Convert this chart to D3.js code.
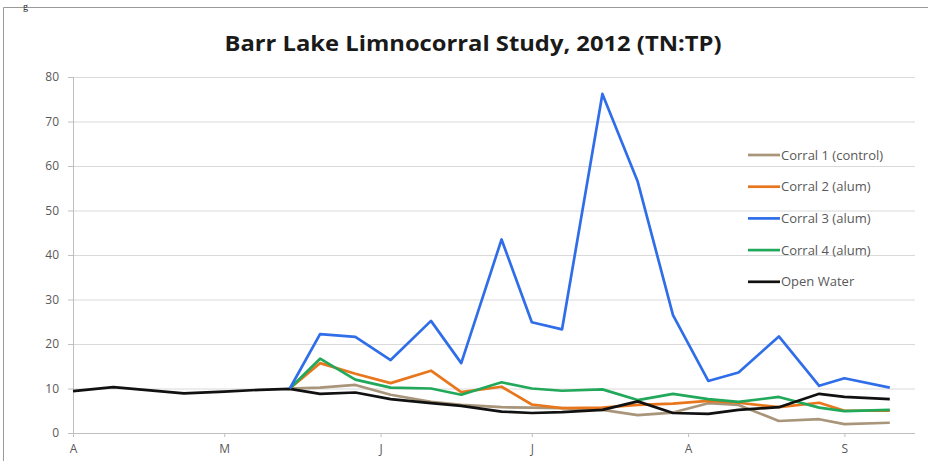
<!DOCTYPE html>
<html lang="en">
<head>
    <meta charset="UTF-8">
    <title>Barr Lake Limnocorral Study</title>
    <script src="https://cdn.jsdelivr.net/npm/d3@7"></script>
    <style>
        body { margin: 0; background: #fff; }
        svg { display: block; }
        .grid line { stroke: #d9d9d9; stroke-width: 1; }
        .axis text { font-family: "Open Sans", sans-serif; font-size: 12px; fill: #595959; }
        .axis path, .axis line { stroke: #bfbfbf; }
    </style>
</head>
<body>
    <div id="chart"></div>
    <script>
        var W = 928;
        var H = 461;
        var margin = { top: 77, right: 13, bottom: 28, left: 73 };
        var w = W - margin.left - margin.right;
        var h = H - margin.top - margin.bottom;

        var parse = d3.timeParse("%Y-%m-%d");

        // sampling dates
        var waterDates = ["2012-04-01", "2012-04-09", "2012-04-23", "2012-05-01", "2012-05-08",
            "2012-05-14", "2012-05-20", "2012-05-27", "2012-06-03", "2012-06-11", "2012-06-17",
            "2012-06-25", "2012-07-01", "2012-07-07", "2012-07-15", "2012-07-22", "2012-07-29",
            "2012-08-05", "2012-08-11", "2012-08-19", "2012-08-27", "2012-09-01", "2012-09-10"];
        var corralDates = waterDates.slice(5);

        var corral1 = [10.0, 10.2, 10.8, 8.6, 7.0, 6.3, 5.8, 5.7, 5.6, 5.2, 4.0, 4.6, 6.7, 6.3, 2.7, 3.1, 2.0, 2.3];
        var corral2 = [10.0, 15.7, 13.3, 11.2, 14.0, 9.2, 10.4, 6.4, 5.6, 5.7, 6.3, 6.6, 7.2, 6.8, 5.8, 6.8, 5.0, 5.0];
        var corral3 = [10.0, 22.2, 21.6, 16.4, 25.2, 15.7, 43.5, 24.9, 23.3, 76.2, 56.5, 26.5, 11.7, 13.6, 21.7, 10.6, 12.3, 10.2];
        var corral4 = [10.0, 16.7, 12.0, 10.2, 10.0, 8.6, 11.4, 10.0, 9.5, 9.8, 7.4, 8.8, 7.6, 7.0, 8.1, 5.7, 4.9, 5.2];
        var openWater = [9.4, 10.3, 8.9, 9.3, 9.7, 9.9, 8.8, 9.1, 7.6, 6.7, 6.1, 4.8, 4.5, 4.7, 5.2, 7.1, 4.5, 4.3, 5.2, 5.8, 8.8, 8.1, 7.6];

        var seriesNames = ["Corral 1 (control)", "Corral 2 (alum)", "Corral 3 (alum)", "Corral 4 (alum)", "Open Water"];
        var seriesColors = ["#a8957a", "#e8761c", "#2f6ee8", "#22a85a", "#111111"];
        var yTicks = [0, 10, 20, 30, 40, 50, 60, 70, 80];
        var monthLabels = ["A", "M", "J", "J", "A", "S"];

        function toPoints(dates, vals) {
            return vals.map(function(v, i) { return { date: parse(dates[i]), value: v }; });
        }

        var series = [
            toPoints(corralDates, corral1),
            toPoints(corralDates, corral2),
            toPoints(corralDates, corral3),
            toPoints(corralDates, corral4),
            toPoints(waterDates, openWater)
        ];

        var svg = d3.select("#chart").append("svg")
            .attr("width", W)
            .attr("height", H);

        // frame from the source document
        svg.append("path")
            .attr("d", "M3.5," + H + "V7.5H" + W)
            .attr("fill", "none")
            .attr("stroke", "#9a9a9a");

        svg.append("text")
            .attr("x", 23)
            .attr("y", 10)
            .attr("font-family", "Liberation Serif, serif")
            .attr("font-size", "10px")
            .attr("fill", "#222")
            .text("g");

        svg.append("text")
            .attr("x", 473)
            .attr("y", 51)
            .attr("text-anchor", "middle")
            .attr("font-family", "Open Sans, sans-serif")
            .attr("font-weight", "bold")
            .attr("font-size", "22px")
            .attr("textLength", 497)
            .attr("lengthAdjust", "spacingAndGlyphs")
            .attr("fill", "#1a1a1a")
            .text("Barr Lake Limnocorral Study, 2012 (TN:TP)");

        var g = svg.append("g")
            .attr("transform", `translate(${margin.left},${margin.top})`);

        var x = d3.scaleTime()
            .domain([parse("2012-04-01"), parse("2012-09-15")])
            .range([0, w]);

        var y = d3.scaleLinear()
            .domain([0, 80])
            .range([h, 0]);

        g.append("g")
            .attr("class", "grid")
            .selectAll("line")
            .data(yTicks.slice(1))
            .enter()
            .append("line")
            .attr("x1", 0)
            .attr("x2", w)
            .attr("y1", d => y(d) + 0.5)
            .attr("y2", d => y(d) + 0.5);

        var yAxis = g.append("g")
            .attr("class", "axis")
            .call(d3.axisLeft(y).tickValues(yTicks).tickSize(5).tickPadding(9));
        yAxis.select(".domain").attr("d", "M0.5," + h + "V0");

        var months = d3.timeMonth.range(parse("2012-04-01"), parse("2012-09-02"));
        var xAxis = g.append("g")
            .attr("class", "axis")
            .attr("transform", `translate(0,${h})`)
            .call(d3.axisBottom(x).tickValues(months)
                .tickFormat((d, i) => monthLabels[i])
                .tickSize(4).tickPadding(7));
        xAxis.select(".domain").attr("d", "M0,0.5H" + w);

        var line = d3.line()
            .x(d => x(d.date))
            .y(d => y(d.value));

        var order = [0, 1, 3, 4, 2];
        order.forEach(function(k) {
            g.append("path")
                .datum(series[k])
                .attr("fill", "none")
                .attr("stroke", seriesColors[k])
                .attr("stroke-width", 2.7)
                .attr("stroke-linejoin", "round")
                .attr("d", line);
        });

        // legend
        var legend = svg.append("g")
            .attr("transform", "translate(748,155)");

        var item = legend.selectAll("g")
            .data(seriesNames)
            .enter()
            .append("g")
            .attr("transform", (d, i) => `translate(0,${i * 31.7})`);

        item.append("line")
            .attr("x1", 0)
            .attr("x2", 32)
            .attr("stroke", (d, i) => seriesColors[i])
            .attr("stroke-width", 2.7);

        item.append("text")
            .attr("x", 33)
            .attr("y", 4.5)
            .attr("font-family", "Open Sans, sans-serif")
            .attr("font-size", "13px")
            .attr("fill", "#595959")
            .text(d => d);
    </script>
</body>
</html>
